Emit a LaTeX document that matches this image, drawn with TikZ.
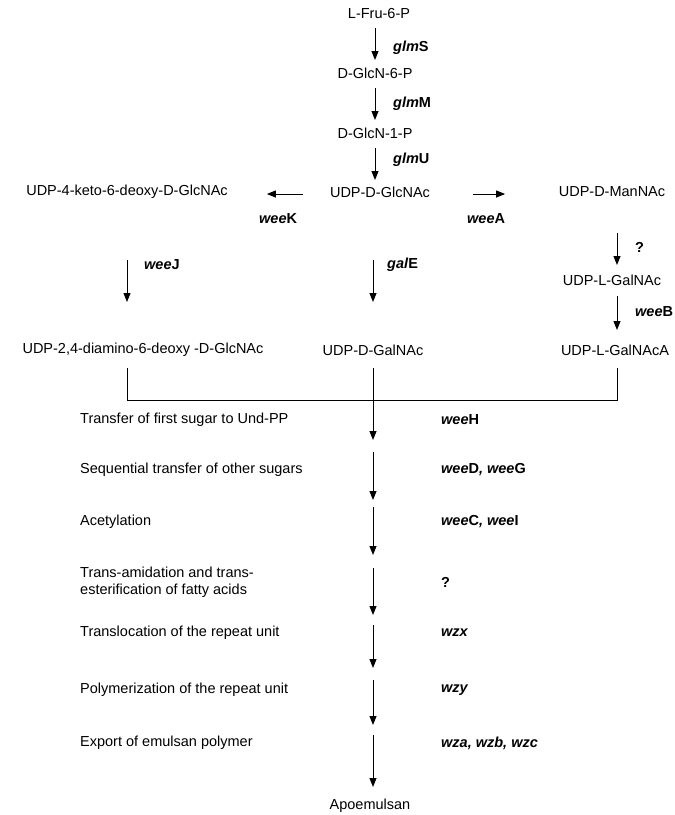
\documentclass[tikz,border=0pt]{standalone}
\usepackage{fontspec}
\setmainfont{Liberation Sans}
\usetikzlibrary{arrows.meta}
\tikzset{
  cmpd/.style={inner sep=2pt, font=\fontsize{14.5}{17}\selectfont},
  gene/.style={inner sep=1pt, anchor=west, font=\fontsize{14.5}{17}\selectfont\bfseries\itshape},
  steptext/.style={inner sep=0pt, anchor=west, align=left, font=\fontsize{14.5}{17}\selectfont},
  arr/.style={line width=1pt, -{Triangle[width=7pt,length=9pt]}}
}
\begin{document}
\begin{tikzpicture}[x=1pt,y=-1pt]
  \useasboundingbox (0,0) rectangle (675,815);
  % top chain
  \node[cmpd] (fru) at (379,14) {L-Fru-6-P};
  \node[cmpd] (glcn6) at (375,73) {D-GlcN-6-P};
  \node[cmpd] (glcn1) at (375,133) {D-GlcN-1-P};
  \node[cmpd] (udpglc) at (380,192) {UDP-D-GlcNAc};
  \draw[arr] (375,28) coordinate (a1) -- (375,60) coordinate (b1);
  \draw[arr] (375,88) coordinate (a2) -- (375,120) coordinate (b2);
  \draw[arr] (375,148) coordinate (a3) -- (375,180) coordinate (b3);
  \node[gene] (gs) at (392,48) {glm\textup{S}};
  \node[gene] (gm) at (392,104) {glm\textup{M}};
  \node[gene] (gu) at (392,160) {glm\textup{U}};

  % branches
  \node[cmpd] (keto) at (127,192) {UDP-4-keto-6-deoxy-D-GlcNAc};
  \node[cmpd] (man) at (612,192) {UDP-D-ManNAc};
  \draw[arr] (udpglc.west) ++(-25,2) coordinate (k1) -- ++(-36,0) coordinate (k2);
  \draw[arr] (udpglc.east) ++(41,2) coordinate (m1) -- ++(32,0) coordinate (m2);
  \node[gene] (wk) at (258,219) {wee\textup{K}};
  \node[gene] (wa) at (466,219) {wee\textup{A}};

  \node[cmpd] (galnac) at (612,280) {UDP-L-GalNAc};
  \node[cmpd] (galnaca) at (615,350) {UDP-L-GalNAcA};
  \node[cmpd] (diamino) at (143,350) {UDP-2,4-diamino-6-deoxy -D-GlcNAc};
  \node[cmpd] (udpgal) at (373,350) {UDP-D-GalNAc};
  \draw[arr] (617,233) coordinate (q1) -- (617,265) coordinate (q2);
  \draw[arr] (617,296) coordinate (q3) -- (617,330) coordinate (q4);
  \draw[arr] (127,260) coordinate (j1) -- (127,302) coordinate (j2);
  \draw[arr] (373,260) coordinate (e1) -- (373,302) coordinate (e2);
  \node[gene] (wq) at (634,247) {\textup{?}};
  \node[gene] (wb) at (634,312) {wee\textup{B}};
  \node[gene] (wj) at (143,265) {wee\textup{J}};
  \node[gene] (ge) at (386,265) {gal\textup{E}};

  % collector
  \draw[line width=1pt] (127,368) -- (127,400) -- (617,400) -- (617,368);
  \draw[line width=1pt] (373,368) -- (373,400) coordinate (s0);

  % steps
  \foreach \i/\y/\ya/\yb/\txt/\gn in {
      1/420/400/440/{Transfer of first sugar to Und-PP}/{wee\textup{H}},
      2/470/452/500/{Sequential transfer of other sugars}/{wee\textup{D}, wee\textup{G}},
      3/522/507/555/{Acetylation}/{wee\textup{C}, wee\textup{I}},
      4/582/568/615/{Trans-amidation and trans-\\esterification of fatty acids}/{\textup{?}},
      5/633/625/668/{Translocation of the repeat unit}/{wzx},
      6/690/680/725/{Polymerization of the repeat unit}/{wzy},
      7/743/735/787/{Export of emulsan polymer}/{wza, wzb, wzc}} {
    \node[steptext] (st\i) at (80,\y) {\txt};
    \node[gene] (gn\i) at (440,\y) {\gn};
    \draw[arr] (373,\ya) coordinate (t\i) -- (373,\yb) coordinate (u\i);
  }
  \node[cmpd] (apo) at (370,806) {Apoemulsan};
\end{tikzpicture}
\end{document}
